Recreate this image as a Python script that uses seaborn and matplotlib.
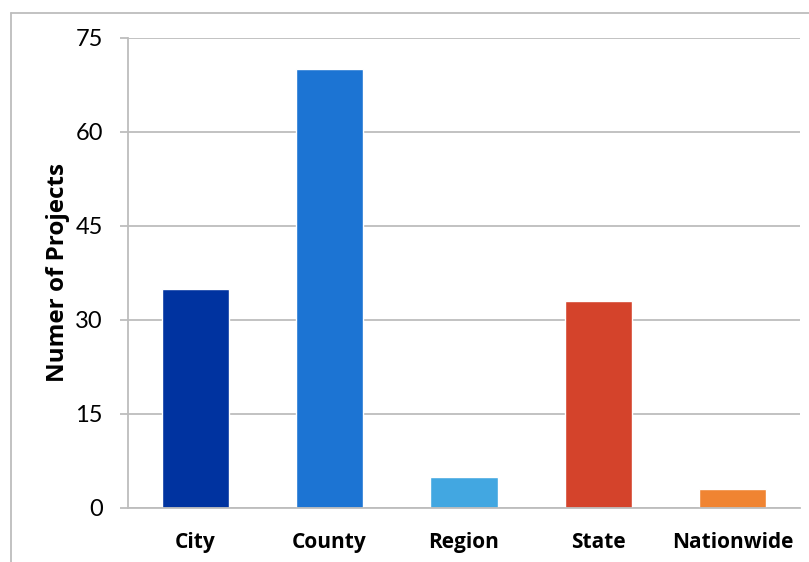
import matplotlib
matplotlib.use("Agg")
import matplotlib.pyplot as plt
import seaborn as sns
import pandas as pd
from matplotlib.lines import Line2D

categories = ["City", "County", "Region", "State", "Nationwide"]
values = [35, 70, 5, 33, 3]
colors = ["#0033A0", "#1C74D3", "#42A7E1", "#D4432B", "#F08432"]
yticks = [0, 15, 30, 45, 60, 75]
ylabel = "Numer of Projects"

sns.set_style("white")
plt.rcParams["font.family"] = ["Lato", "DejaVu Sans"]
bold_font = ["Open Sans", "DejaVu Sans"]

df = pd.DataFrame({"category": categories, "value": values})

fig = plt.figure(figsize=(8.09, 5.62), dpi=100)
ax = fig.add_axes([128 / 809, 1 - 508 / 562, (800 - 128) / 809, (508 - 38) / 562])

sns.barplot(data=df, x="category", y="value", hue="category",
            palette=colors, order=categories, hue_order=categories,
            width=0.5, legend=False, ax=ax, saturation=1)

grid_c = "#BDBDBD"
ax.set_ylim(0, 75)
ax.set_xlim(-0.5, 4.5)
ax.set_yticks(yticks)
ax.set_yticklabels([str(t) for t in yticks], fontsize=17, color="black")
ax.yaxis.grid(True, color=grid_c, linewidth=1.3)
ax.set_axisbelow(True)
for s in ["top", "right"]:
    ax.spines[s].set_visible(False)
ax.spines["left"].set_color(grid_c)
ax.spines["left"].set_linewidth(1.3)
ax.spines["bottom"].set_color(grid_c)
ax.spines["bottom"].set_linewidth(1.3)
ax.tick_params(axis="y", which="major", length=6, width=1.3, color=grid_c, pad=12, left=True)
ax.tick_params(axis="x", length=0, pad=17)
for lbl in ax.get_xticklabels():
    lbl.set_fontweight("bold")
    lbl.set_fontsize(15)
    lbl.set_color("black")
    lbl.set_family(bold_font)
ax.set_xlabel("")
ax.set_ylabel(ylabel, fontsize=17.5, fontweight="bold", labelpad=4, color="black",
              family=bold_font)

# outer frame
fig.add_artist(Line2D([11 / 809, 11 / 809], [0, 1 - 13 / 562], transform=fig.transFigure,
                      color="#BDBDBD", linewidth=1.3))
fig.add_artist(Line2D([11 / 809, 1], [1 - 13 / 562, 1 - 13 / 562], transform=fig.transFigure,
                      color="#BDBDBD", linewidth=1.3))

fig.savefig("out.png", dpi=100)
